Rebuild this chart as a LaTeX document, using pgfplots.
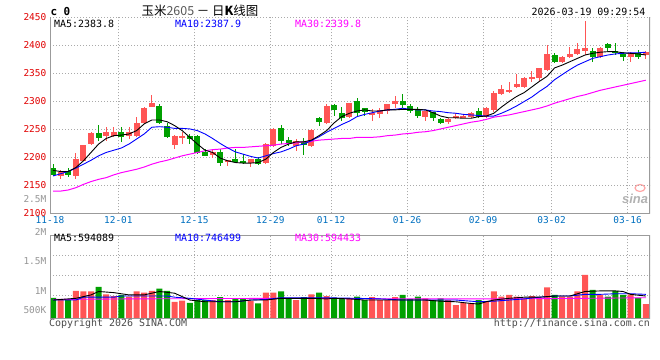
\documentclass[border=0pt]{standalone}
\usepackage{pgfplots}
\pgfplotsset{compat=1.18}
\usepackage{pgfplotstable}
\usepackage{fontspec}
\setmonofont{DejaVu Sans Mono}
\newfontfamily\cjk{Noto Sans CJK SC}
\newfontfamily\lsans{Liberation Sans}
\definecolor{up}{RGB}{255,85,85}
\definecolor{dn}{RGB}{0,160,0}
\definecolor{pricered}{RGB}{225,0,0}
\definecolor{datebl}{RGB}{0,112,192}
\definecolor{gridc}{RGB}{170,170,170}
\definecolor{framec}{RGB}{155,155,155}
\definecolor{labgray}{RGB}{150,150,150}
\definecolor{mag}{RGB}{255,0,255}
\definecolor{mablue}{RGB}{0,0,255}

\pgfplotstableread{
i O H L C V
1 2167 2178 2162 2175 0.86
3 2167 2208 2161 2197 1.02
4 2194 2223 2193 2222 1.01
5 2224 2245 2222 2243 1.01
7 2239 2255 2230 2245 0.96
8 2239 2255 2236 2245 0.93
10 2239 2254 2233 2245 0.92
11 2239 2273 2237 2261 1.01
12 2261 2290 2260 2289 0.99
13 2291 2312 2290 2297 1.02
16 2222 2240 2215 2239 0.83
17 2236 2245 2224 2239 0.85
21 2205 2215 2200 2209 0.86
23 2192 2195 2185 2195 0.86
26 2190 2197 2183 2197 0.84
28 2190 2226 2188 2224 0.99
29 2220 2252 2219 2251 0.99
32 2221 2233 2212 2230 0.86
34 2221 2250 2219 2249 0.96
36 2261 2295 2260 2292 0.93
39 2273 2298 2271 2297 0.89
42 2277 2286 2265 2280 0.91
43 2277 2289 2271 2284 0.86
44 2283 2296 2277 2296 0.86
45 2296 2310 2289 2301 0.91
49 2273 2283 2265 2283 0.89
52 2264 2271 2259 2268 0.86
53 2271 2280 2268 2274 0.77
54 2271 2277 2271 2274 0.81
55 2273 2282 2271 2280 0.80
57 2273 2290 2271 2289 0.83
58 2285 2318 2282 2316 1.01
59 2313 2330 2312 2322 0.92
60 2318 2334 2315 2321 0.95
61 2326 2349 2324 2332 0.92
62 2326 2344 2324 2342 0.89
63 2340 2354 2334 2343 0.93
64 2342 2360 2336 2360 0.89
65 2357 2401 2354 2385 1.08
67 2370 2381 2369 2379 0.92
68 2379 2398 2378 2385 0.92
69 2385 2405 2383 2393 1.01
70 2391 2444 2383 2395 1.30
72 2380 2397 2378 2396 0.95
76 2379 2388 2370 2386 0.96
78 2383 2391 2376 2388 0.79
}\upc

\pgfplotstableread{
i O H L C V
0 2182 2188 2167 2169 0.90
2 2176 2181 2165 2169 0.86
6 2243 2258 2230 2234 1.09
9 2245 2255 2227 2236 0.95
14 2292 2296 2260 2261 1.06
15 2257 2261 2235 2237 1.02
18 2239 2242 2224 2233 0.81
19 2239 2240 2206 2208 0.86
20 2209 2215 2203 2203 0.86
22 2209 2215 2185 2190 0.91
24 2197 2215 2191 2192 0.88
25 2194 2207 2188 2190 0.88
27 2198 2200 2186 2189 0.80
30 2252 2258 2225 2230 1.01
31 2231 2236 2221 2224 0.88
33 2227 2234 2205 2222 0.91
35 2270 2273 2257 2264 0.99
37 2293 2295 2274 2285 0.90
38 2280 2290 2265 2271 0.89
40 2300 2306 2272 2280 0.92
41 2288 2289 2274 2282 0.86
46 2300 2314 2289 2294 0.95
47 2292 2295 2280 2283 0.88
48 2285 2290 2271 2274 0.92
50 2281 2282 2265 2270 0.86
51 2268 2271 2259 2262 0.89
56 2283 2288 2271 2273 0.86
66 2383 2386 2368 2370 0.95
71 2391 2395 2371 2380 1.04
73 2402 2405 2391 2396 0.92
74 2391 2404 2383 2386 1.02
75 2385 2389 2372 2379 0.95
77 2387 2392 2376 2380 0.90
}\dnc

\pgfplotstableread{
i ma5 ma10 ma30
0 2177 2167 2140
1 2175 2171 2140
2 2175 2175 2142
3 2182 2181 2146
4 2194 2188 2152
5 2209 2195 2157
6 2224 2203 2161
7 2234 2209 2164
8 2239 2213 2169
9 2240 2217 2173
10 2242 2224 2176
11 2248 2233 2179
12 2260 2242 2183
13 2267 2254 2188
14 2267 2255 2192
15 2264 2254 2195
16 2257 2252 2199
17 2248 2252 2203
18 2236 2251 2206
19 2224 2248 2209
20 2213 2242 2212
21 2209 2234 2214
22 2199 2225 2215
23 2194 2217 2217
24 2191 2210 2218
25 2190 2206 2218
26 2190 2202 2219
27 2191 2199 2220
28 2197 2203 2221
29 2209 2207 2222
30 2218 2210 2224
31 2224 2215 2225
32 2228 2221 2226
33 2228 2224 2228
34 2231 2230 2229
35 2239 2237 2231
36 2248 2245 2232
37 2262 2252 2233
38 2273 2259 2234
39 2279 2265 2234
40 2283 2273 2236
41 2285 2277 2236
42 2283 2280 2236
43 2283 2283 2237
44 2285 2285 2239
45 2285 2286 2240
46 2286 2288 2242
47 2286 2286 2243
48 2286 2285 2245
49 2285 2285 2246
50 2280 2283 2248
51 2274 2282 2251
52 2271 2280 2254
53 2271 2279 2257
54 2270 2277 2260
55 2270 2276 2263
56 2273 2275 2265
57 2274 2274 2268
58 2279 2274 2272
59 2290 2279 2274
60 2300 2285 2276
61 2309 2292 2279
62 2316 2300 2282
63 2326 2308 2285
64 2336 2318 2288
65 2345 2327 2292
66 2360 2339 2297
67 2365 2348 2301
68 2371 2357 2305
69 2377 2365 2309
70 2383 2371 2312
71 2386 2377 2316
72 2388 2380 2320
73 2389 2383 2323
74 2389 2385 2326
75 2387 2386 2329
76 2386 2387 2332
77 2385 2387 2335
78 2383 2388 2338
}\pma

\pgfplotstableread{
i v
0 0.86
3 0.89
5 0.95
6 1.01
8 0.99
10 0.95
12 0.95
14 1.01
16 0.98
18 0.86
20 0.83
22 0.83
24 0.83
26 0.86
28 0.86
30 0.89
32 0.89
34 0.89
36 0.88
37 0.89
39 0.88
41 0.86
43 0.86
45 0.86
47 0.86
49 0.86
51 0.84
53 0.83
55 0.80
56 0.79
57 0.83
58 0.86
60 0.89
62 0.91
64 0.91
66 0.93
68 0.93
70 1.01
72 1.02
74 1.02
75 1.01
76 0.96
78 0.93
}\vmafive

\pgfplotstableread{
i v
0 0.86
3 0.86
4 0.91
8 0.91
9 0.93
15 0.93
16 0.91
18 0.89
20 0.86
22 0.83
24 0.83
26 0.86
28 0.87
30 0.90
36 0.90
40 0.89
43 0.88
46 0.86
50 0.86
53 0.86
56 0.83
58 0.84
60 0.86
62 0.88
64 0.91
66 0.93
68 0.93
70 0.96
72 0.96
74 0.97
76 0.97
78 0.96
}\vmaten

\pgfplotstableread{
i v
0 0.87
10 0.88
30 0.89
50 0.88
60 0.88
70 0.89
78 0.90
}\vmathirty

\pgfplotsset{
  klayout/.style={
    scale only axis, width=600bp,
    xmin=-0.395, xmax=78.55,
    axis line style={draw=none},
    tick style={draw=none},
    xtick={-0.4,8.6,18.6,28.6,36.6,46.6,56.6,65.6,75.6},
    grid=major,
    major grid style={gridc, line width=0.8bp, dash pattern=on 1bp off 2bp},
  }
}

\begin{document}
\begin{tikzpicture}
\useasboundingbox (0,0) rectangle (660bp,360bp);
\fill[white] (0,0) rectangle (660bp,360bp);

% watermark
\node[font=\lsans\bfseries\itshape\fontsize{13}{13}\selectfont, text=black!30] at (635bp,161bp) {sina};
\draw[red!35, line width=1.2bp] (640bp,172bp) ellipse (5bp and 3.5bp);

% price panel
\begin{axis}[klayout,
  at={(50bp,146.5bp)}, anchor=south west, height=196bp,
  ymin=2100, ymax=2450,
  ytick={2100,2150,2200,2250,2300,2350,2400,2450},
  yticklabels={2100,2150,2200,2250,2300,2350,2400,2450},
  yticklabel style={font=\ttfamily\fontsize{9.5}{9.5}\selectfont, text=pricered, anchor=east, inner sep=0pt, xshift=-3.5bp},
  xticklabels={11-18,12-01,12-15,12-29,01-12,01-26,02-09,03-02,03-16},
  xticklabel style={font=\ttfamily\fontsize{9.5}{9.5}\selectfont, text=datebl, anchor=north, inner sep=0pt, yshift=-3bp},
]
\addplot[draw=none, forget plot, error bars/.cd, y dir=both, y explicit, error mark=none,
  error bar style={draw=up, line width=1bp}]
  table[x=i, y expr={(\thisrow{H}+\thisrow{L})/2}, y error expr={(\thisrow{H}-\thisrow{L})/2}] {\upc};
\addplot[draw=none, forget plot, error bars/.cd, y dir=both, y explicit, error mark=none,
  error bar style={draw=dn, line width=1bp}]
  table[x=i, y expr={(\thisrow{H}+\thisrow{L})/2}, y error expr={(\thisrow{H}-\thisrow{L})/2}] {\dnc};
\addplot[draw=none, forget plot, error bars/.cd, y dir=both, y explicit, error mark=none,
  error bar style={draw=up, line width=6bp}]
  table[x=i, y expr={(\thisrow{O}+\thisrow{C})/2}, y error expr={max(abs(\thisrow{C}-\thisrow{O})/2,0.9)}] {\upc};
\addplot[draw=none, forget plot, error bars/.cd, y dir=both, y explicit, error mark=none,
  error bar style={draw=dn, line width=6bp}]
  table[x=i, y expr={(\thisrow{O}+\thisrow{C})/2}, y error expr={max(abs(\thisrow{C}-\thisrow{O})/2,0.9)}] {\dnc};
\addplot[mag, line width=1bp] table[x=i, y=ma30] {\pma};
\addplot[mablue, line width=0.9bp] table[x=i, y=ma10] {\pma};
\addplot[black, line width=0.9bp] table[x=i, y=ma5] {\pma};
\draw[framec, line width=1bp] (rel axis cs:0,1) -- (rel axis cs:0,0) -- (rel axis cs:1,0);
\draw[framec, line width=1.6bp] (rel axis cs:1,0) -- (rel axis cs:1,1);
\end{axis}

% volume panel
\begin{axis}[klayout,
  at={(50bp,41.7bp)}, anchor=south west, height=83.3bp,
  ymin=0.54, ymax=2,
  ytick={0.947,1.298,1.649}, yticklabels={},
  xticklabels={},
]
\addplot[ybar, bar width=6bp, bar shift=0pt, fill=up, draw=none] table[x=i, y=V] {\upc};
\addplot[ybar, bar width=6bp, bar shift=0pt, fill=dn, draw=none] table[x=i, y=V] {\dnc};
\addplot[mag, line width=0.9bp] table[x=i, y=v] {\vmathirty};
\addplot[mablue, line width=0.9bp] table[x=i, y=v] {\vmaten};
\addplot[black, line width=0.9bp] table[x=i, y=v] {\vmafive};
\draw[framec, line width=1.2bp] (rel axis cs:0,0) rectangle (rel axis cs:1,1);
\end{axis}

% texts
\node[anchor=west, font=\ttfamily\bfseries\fontsize{11}{11}\selectfont] at (47bp,348bp) {c 0};
\node[font=\cjk\fontsize{12.5}{12.5}\selectfont] at (200bp,349bp) {玉米{\color{black!65}2605} － 日{\bfseries K}线图};
\node[anchor=east, font=\ttfamily\fontsize{10}{10}\selectfont] at (649bp,348bp) {2026-03-19 09:29:54};

\node[anchor=west, font=\ttfamily\fontsize{10}{10}\selectfont, inner sep=0pt] at (54bp,336bp) {MA5:2383.8};
\node[anchor=west, font=\ttfamily\fontsize{10}{10}\selectfont, inner sep=0pt, text=mablue] at (175bp,336bp) {MA10:2387.9};
\node[anchor=west, font=\ttfamily\fontsize{10}{10}\selectfont, inner sep=0pt, text=mag] at (295bp,336bp) {MA30:2339.8};

\node[anchor=west, font=\ttfamily\fontsize{10}{10}\selectfont, inner sep=0pt] at (54bp,122bp) {MA5:594089};
\node[anchor=west, font=\ttfamily\fontsize{10}{10}\selectfont, inner sep=0pt, text=mablue] at (175bp,122bp) {MA10:746499};
\node[anchor=west, font=\ttfamily\fontsize{10}{10}\selectfont, inner sep=0pt, text=mag] at (295bp,122bp) {MA30:594433};

\node[anchor=east, font=\ttfamily\fontsize{9.5}{9.5}\selectfont, inner sep=0pt, text=labgray] at (46.5bp,161bp) {2.5M};
\node[anchor=east, font=\ttfamily\fontsize{9.5}{9.5}\selectfont, inner sep=0pt, text=labgray] at (46.5bp,128.5bp) {2M};
\node[anchor=east, font=\ttfamily\fontsize{9.5}{9.5}\selectfont, inner sep=0pt, text=labgray] at (46.5bp,99bp) {1.5M};
\node[anchor=east, font=\ttfamily\fontsize{9.5}{9.5}\selectfont, inner sep=0pt, text=labgray] at (46.5bp,69bp) {1M};
\node[anchor=east, font=\ttfamily\fontsize{9.5}{9.5}\selectfont, inner sep=0pt, text=labgray] at (46.5bp,50bp) {500K};

\node[anchor=west, font=\ttfamily\fontsize{10}{10}\selectfont, inner sep=0pt, text=black!70] at (49bp,36.5bp) {Copyright 2026 SINA.COM};
\node[anchor=east, font=\ttfamily\fontsize{10}{10}\selectfont, inner sep=0pt, text=black!70] at (650bp,36.5bp) {http://finance.sina.com.cn};
\end{tikzpicture}
\end{document}
